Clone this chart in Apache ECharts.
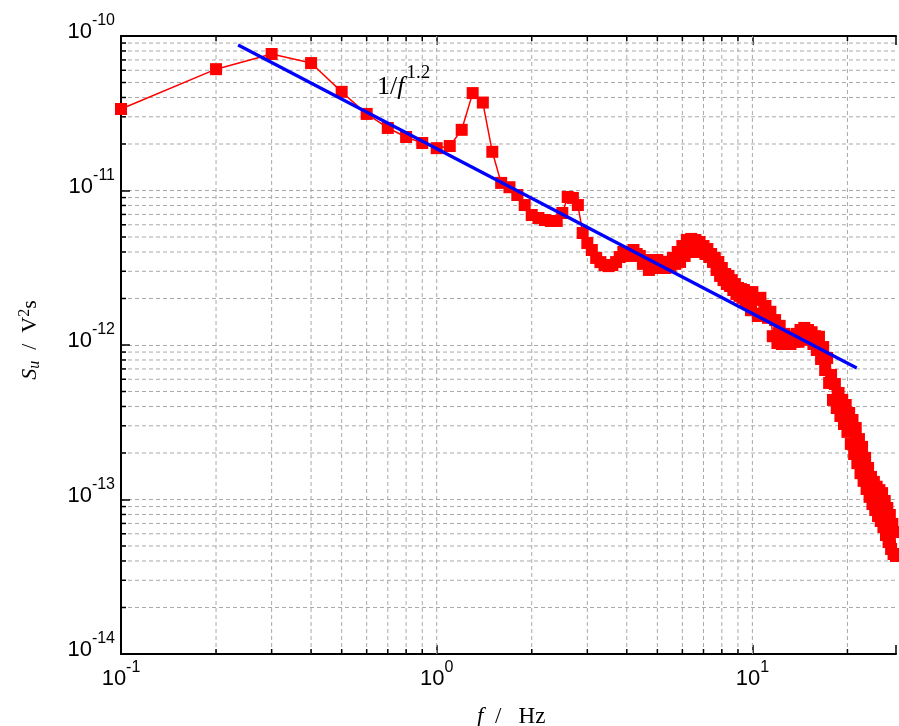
<!DOCTYPE html>
<html><head><meta charset="utf-8">
<script src="https://cdn.jsdelivr.net/npm/echarts@6/dist/echarts.min.js"></script>
<style>html,body{margin:0;padding:0;background:#fff}#c{width:899px;height:726px}</style>
</head><body><div id="c"></div>
<script>
// measured spectrum: frequency (Hz) and S_u (V^2 s)
const freq = [
  0.1,0.2,0.3,0.4,0.5,0.6,0.7,0.8,0.9,1.0,
  1.1,1.2,1.3,1.4,1.5,1.6,1.7,1.8,1.9,2.0,
  2.1,2.2,2.3,2.4,2.5,2.6,2.7,2.8,2.9,3.0,
  3.1,3.2,3.3,3.4,3.5,3.6,3.7,3.8,3.9,4.0,
  4.1,4.2,4.3,4.4,4.5,4.6,4.7,4.8,4.9,5.0,
  5.1,5.2,5.3,5.4,5.5,5.6,5.7,5.8,5.9,6.0,
  6.1,6.2,6.3,6.4,6.5,6.6,6.7,6.8,6.9,7.0,
  7.1,7.2,7.3,7.4,7.5,7.6,7.7,7.8,7.9,8.0,
  8.1,8.2,8.3,8.4,8.5,8.6,8.7,8.8,8.9,9.0,
  9.1,9.2,9.3,9.4,9.5,9.6,9.7,9.8,9.9,10.0,
  10.2,10.4,10.6,10.8,11.0,11.2,11.4,11.6,11.8,12.0,
  12.2,12.4,12.6,12.8,13.0,13.2,13.4,13.6,13.8,14.0,
  14.2,14.4,14.6,14.8,15.0,15.2,15.4,15.6,15.8,16.0,
  16.25,16.5,16.75,17.0,17.25,17.5,17.75,18.0,18.25,18.5,
  18.75,19.0,19.25,19.5,19.75,20.0,20.25,20.5,20.75,21.0,
  21.25,21.5,21.75,22.0,22.25,22.5,22.75,23.0,23.25,23.5,
  23.75,24.0,24.25,24.5,24.75,25.0,25.25,25.5,25.75,26.0,
  26.25,26.5,26.75,27.0,27.25,27.5,27.75,28.0,28.25,28.5
];
const su = [
  3.37e-11,6.1e-11,7.65e-11,6.68e-11,4.35e-11,3.13e-11,2.54e-11,2.22e-11,2.03e-11,1.88e-11,
  1.94e-11,2.47e-11,4.27e-11,3.71e-11,1.78e-11,1.12e-11,1.05e-11,9.35e-12,8.05e-12,6.94e-12,
  6.64e-12,6.44e-12,6.35e-12,6.35e-12,7.15e-12,9.08e-12,8.95e-12,8.05e-12,5.31e-12,4.57e-12,
  4.12e-12,3.66e-12,3.44e-12,3.29e-12,3.24e-12,3.29e-12,3.44e-12,3.71e-12,4.0e-12,4.0e-12,
  3.77e-12,4.12e-12,3.88e-12,3.77e-12,3.35e-12,3.55e-12,3.06e-12,3.45e-12,3.15e-12,3.55e-12,
  3.15e-12,3.45e-12,3.15e-12,3.45e-12,3.25e-12,3.66e-12,3.35e-12,4.00e-12,3.45e-12,4.37e-12,
  3.77e-12,4.78e-12,4.00e-12,4.86e-12,4.12e-12,4.78e-12,4.00e-12,4.64e-12,4.12e-12,4.37e-12,
  3.88e-12,4.18e-12,3.71e-12,3.88e-12,3.45e-12,3.66e-12,3.06e-12,3.45e-12,2.80e-12,3.15e-12,
  2.63e-12,2.88e-12,2.48e-12,2.80e-12,2.41e-12,2.63e-12,2.27e-12,2.48e-12,2.14e-12,2.34e-12,
  2.08e-12,2.30e-12,2.02e-12,2.27e-12,1.90e-12,2.20e-12,1.84e-12,2.14e-12,1.68e-12,2.20e-12,
  1.96e-12,1.54e-12,2.02e-12,1.59e-12,1.79e-12,1.50e-12,1.64e-12,1.14e-12,1.45e-12,1.03e-12,
  1.33e-12,1.015e-12,1.18e-12,1.015e-12,1.14e-12,1.015e-12,1.11e-12,1.05e-12,1.18e-12,1.05e-12,
  1.25e-12,1.08e-12,1.29e-12,1.11e-12,1.25e-12,1.11e-12,1.21e-12,1.015e-12,1.14e-12,9.28e-13,
  1.13e-12,8.12e-13,9.70e-13,6.89e-13,8.24e-13,5.68e-13,6.40e-13,4.41e-13,5.59e-13,3.91e-13,
  4.89e-13,3.47e-13,4.41e-13,3.08e-13,4.09e-13,2.74e-13,3.63e-13,2.29e-13,3.27e-13,1.97e-13,
  2.90e-13,1.72e-13,2.46e-13,1.48e-13,2.19e-13,1.32e-13,1.86e-13,1.17e-13,1.60e-13,1.04e-13,
  1.40e-13,9.35e-14,1.30e-13,8.55e-14,1.21e-13,7.82e-14,1.15e-13,7.26e-14,1.10e-13,6.64e-14,
  9.78e-14,5.89e-14,8.81e-14,5.31e-14,7.94e-14,4.78e-14,6.94e-14,4.44e-14,6.16e-14,4.31e-14
];
// 1/f^1.2 reference line end points
const fitFreq = [0.235, 21.4];
const fitSu = [8.75e-11, 7.1e-13];
// axis ranges and tick values
const X_MIN = 0.1, X_MAX = 28.5, Y_MIN = 1e-14, Y_MAX = 1e-10;
const xMajorGrid = [1, 10];
const xMinorTicks = [0.2,0.3,0.4,0.5,0.6,0.7,0.8,0.9,2,3,4,5,6,7,8,9,20];
const yMinorTicks = [
  2e-14,3e-14,4e-14,5e-14,6e-14,7e-14,8e-14,9e-14,
  2e-13,3e-13,4e-13,5e-13,6e-13,7e-13,8e-13,9e-13,
  2e-12,3e-12,4e-12,5e-12,6e-12,7e-12,8e-12,9e-12,
  2e-11,3e-11,4e-11,5e-11,6e-11,7e-11,8e-11,9e-11
];

const GRID = '#a9a9a9';
const SANS = 'Liberation Sans';
const SERIF = 'Liberation Serif';

function powLabel(v) {
  const e = Math.log10(v);
  const r = Math.round(e);
  if (Math.abs(e - r) > 1e-6) return '';
  return '{b|10}{s|' + r + '}';
}
const labelRich = {
  b: {fontSize: 22, fontFamily: SANS, color: '#000', lineHeight: 30, verticalAlign: 'bottom'},
  s: {fontSize: 16, fontFamily: SANS, color: '#000', lineHeight: 16, verticalAlign: 'top'}
};

const chart = echarts.init(document.getElementById('c'), null, {renderer: 'canvas'});
chart.setOption({
  animation: false,
  backgroundColor: '#fff',
  grid: {left: 121, right: 0, top: 36, bottom: 72, containLabel: false},
  xAxis: [{
    type: 'log', logBase: 10, min: X_MIN, max: X_MAX, position: 'bottom',
    axisLine: {show: true, onZero: false, lineStyle: {color: '#000', width: 2}},
    axisTick: {show: true, inside: true, length: 9, lineStyle: {color: '#000', width: 1.5}},
    axisLabel: {show: true, margin: 6, formatter: powLabel, rich: labelRich},
    splitLine: {show: false},
    minorTick: {show: false}, minorSplitLine: {show: false}
  }, {
    type: 'log', logBase: 10, min: X_MIN, max: X_MAX, position: 'top',
    axisLine: {show: true, onZero: false, lineStyle: {color: '#000', width: 2}},
    axisTick: {show: true, inside: true, length: 9, lineStyle: {color: '#000', width: 1.5}},
    axisLabel: {show: false},
    splitLine: {show: false}
  }],
  yAxis: [{
    type: 'log', logBase: 10, min: Y_MIN, max: Y_MAX,
    axisLine: {show: true, onZero: false, lineStyle: {color: '#000', width: 2}},
    axisTick: {show: true, inside: true, length: 9, lineStyle: {color: '#000', width: 1.5}},
    axisLabel: {show: true, margin: 6, padding: [0, 0, 16, 0], formatter: powLabel, rich: labelRich},
    splitLine: {show: true, lineStyle: {color: GRID, width: 1, type: [4, 3]}}
  }],
  series: [
    {
      type: 'custom', name: 'xmajor', xAxisIndex: 0, yAxisIndex: 0, z: 1, silent: true,
      data: xMajorGrid.map(v => [v, Y_MIN]),
      encode: {x: 0, y: 1},
      renderItem: function (params, api) {
        const b = api.coord([api.value(0), Y_MIN]);
        const t = api.coord([api.value(0), Y_MAX]);
        return {type: 'line', shape: {x1: b[0], y1: b[1], x2: t[0], y2: t[1]}, style: {stroke: GRID, lineWidth: 1, lineDash: [4, 3]}};
      }
    },
    {
      type: 'custom', name: 'xminor', xAxisIndex: 0, yAxisIndex: 0, z: 1, silent: true,
      data: xMinorTicks.map(v => [v, Y_MIN]),
      encode: {x: 0, y: 1},
      renderItem: function (params, api) {
        const b = api.coord([api.value(0), Y_MIN]);
        const t = api.coord([api.value(0), Y_MAX]);
        return {type: 'group', children: [
          {type: 'line', shape: {x1: b[0], y1: b[1], x2: t[0], y2: t[1]}, style: {stroke: GRID, lineWidth: 1, lineDash: [4, 3]}},
          {type: 'line', shape: {x1: b[0], y1: b[1], x2: b[0], y2: b[1] - 5}, style: {stroke: '#000', lineWidth: 1.5}},
          {type: 'line', shape: {x1: t[0], y1: t[1], x2: t[0], y2: t[1] + 5}, style: {stroke: '#000', lineWidth: 1.5}}
        ]};
      }
    },
    {
      type: 'custom', name: 'yminor', xAxisIndex: 0, yAxisIndex: 0, z: 1, silent: true,
      data: yMinorTicks.map(v => [X_MIN, v]),
      encode: {x: 0, y: 1},
      renderItem: function (params, api) {
        const l = api.coord([X_MIN, api.value(1)]);
        const r = api.coord([X_MAX, api.value(1)]);
        return {type: 'group', children: [
          {type: 'line', shape: {x1: l[0], y1: l[1], x2: r[0], y2: r[1]}, style: {stroke: GRID, lineWidth: 1, lineDash: [4, 3]}},
          {type: 'line', shape: {x1: l[0], y1: l[1], x2: l[0] + 5, y2: l[1]}, style: {stroke: '#000', lineWidth: 1.5}}
        ]};
      }
    },
    {
      type: 'line', name: 'Su', z: 3,
      data: freq.map((f, i) => [f, su[i]]),
      symbol: 'rect', symbolSize: 12, showAllSymbol: true,
      lineStyle: {color: '#ff0000', width: 1.5},
      itemStyle: {color: '#ff0000'},
      clip: true
    },
    {
      type: 'line', name: 'fit', z: 4,
      data: fitFreq.map((f, i) => [f, fitSu[i]]),
      symbol: 'none',
      lineStyle: {color: '#0000ff', width: 3.2}
    }
  ],
  graphic: [
    {
      type: 'text', left: 377, top: 64, z: 10,
      style: {
        text: '{n|1/}{i|f}{s|1.2}', fill: '#000',
        rich: {
          n: {fontSize: 26, fontFamily: SERIF, color: '#000', lineHeight: 36, verticalAlign: 'bottom'},
          i: {fontSize: 26, fontFamily: SERIF, fontStyle: 'italic', color: '#000', lineHeight: 36, verticalAlign: 'bottom', padding: [0, 2, 0, 0]},
          s: {fontSize: 19, fontFamily: SERIF, color: '#000', lineHeight: 19, verticalAlign: 'top'}
        }
      }
    },
    {
      type: 'text', left: 477, top: 705, z: 10,
      style: {
        text: '{i|f}{n|  /   Hz}', fill: '#000',
        rich: {
          i: {fontSize: 23, fontFamily: SERIF, fontStyle: 'italic', color: '#000'},
          n: {fontSize: 23, fontFamily: SERIF, color: '#000'}
        }
      }
    },
    {
      type: 'text', x: 30, y: 340, rotation: Math.PI / 2, z: 10,
      style: {
        text: '{i|S}{sub|u}{n|  /  V}{sup|2}{n|s}', fill: '#000',
        align: 'center', verticalAlign: 'middle', textAlign: 'center', textVerticalAlign: 'middle',
        rich: {
          i: {fontSize: 22, fontFamily: SERIF, fontStyle: 'italic', color: '#000', lineHeight: 26},
          n: {fontSize: 22, fontFamily: SERIF, color: '#000', lineHeight: 26},
          sub: {fontSize: 16, fontFamily: SERIF, fontStyle: 'italic', color: '#000', lineHeight: 16, verticalAlign: 'bottom'},
          sup: {fontSize: 16, fontFamily: SERIF, color: '#000', lineHeight: 16, verticalAlign: 'top'}
        }
      }
    }
  ]
});
</script>
</body></html>
